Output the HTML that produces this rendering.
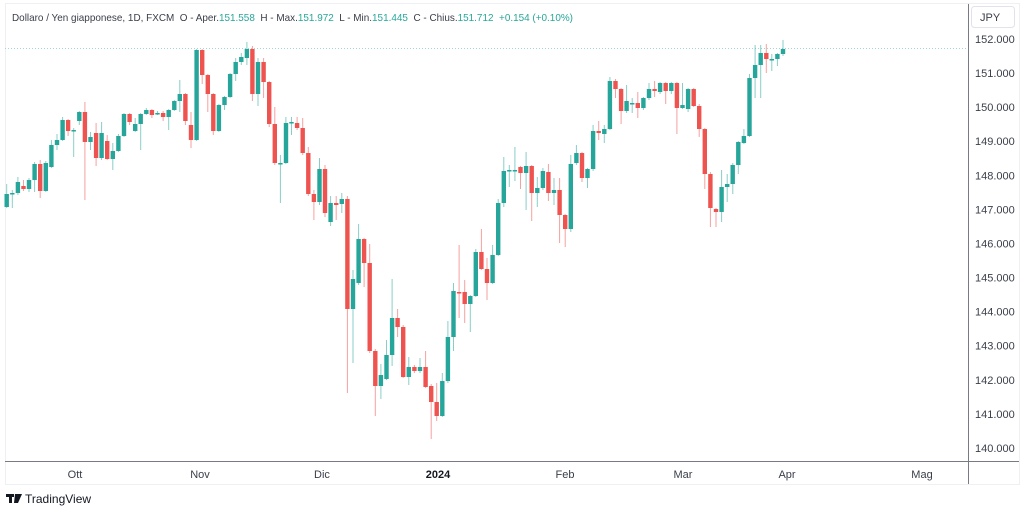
<!DOCTYPE html><html><head><meta charset="utf-8"><style>
body{margin:0;background:#fff;width:1024px;height:511px;overflow:hidden;font-family:"Liberation Sans",sans-serif}
</style></head><body>
<svg id="s" width="1024" height="511" xmlns="http://www.w3.org/2000/svg" font-family="Liberation Sans, sans-serif">
<rect x="5.5" y="3.5" width="1014" height="481" fill="#fff" stroke="#eef0f3"/>
<line x1="5" y1="48.5" x2="968" y2="48.5" stroke="#9fd9d3" stroke-dasharray="1,2"/>
<line x1="968.5" y1="4" x2="968.5" y2="484" stroke="#787b86"/>
<line x1="5" y1="461.5" x2="1019" y2="461.5" stroke="#787b86"/>
<text x="12" y="21" font-size="10.5" fill="#3a3e4a" xml:space="preserve" textLength="561" lengthAdjust="spacingAndGlyphs">Dollaro / Yen giapponese, 1D, FXCM  O - Aper.<tspan fill="#26a69a">151.558</tspan>  H - Max.<tspan fill="#26a69a">151.972</tspan>  L - Min.<tspan fill="#26a69a">151.445</tspan>  C - Chius.<tspan fill="#26a69a">151.712</tspan>  <tspan fill="#26a69a">+0.154 (+0.10%)</tspan></text>
<rect x="971.5" y="6.5" width="43" height="21" rx="3" fill="#fff" stroke="#e0e3eb"/>
<text x="980" y="21" font-size="11" fill="#3a3e4a">JPY</text>
<g id="ax" font-size="11" fill="#3a3e4a"></g>
<g font-size="11" fill="#3a3e4a" text-anchor="middle">
<text x="75" y="478">Ott</text><text x="200" y="478">Nov</text><text x="322" y="478">Dic</text><text x="438" y="478" font-weight="bold" fill="#131722">2024</text><text x="565" y="478">Feb</text><text x="683" y="478">Mar</text><text x="787" y="478">Apr</text><text x="922" y="478">Mag</text>
</g>
<g fill="#131722"><rect x="6" y="494" width="8" height="3"/><rect x="9" y="494" width="3" height="9"/><polygon points="15,494 22,494 18,503 14,503"/></g>
<text x="25" y="503" font-size="12" fill="#131722">TradingView</text>
<g id="c"></g>
</svg>
<script>
var ax=document.getElementById('ax'),h='';
for(var p=152;p>=140;p--){var y=39+(152-p)*34.08;h+='<text x="975" y="'+(y+4)+'">'+p+'.000</text>';}
ax.innerHTML=h;
var d=[["g",194,207,184,208],["g",193,194,190,208],["g",182,193,177,195],["r",186,189,180,191],["g",180,189,178,192],["g",164,180,162,192],["r",164,191,160,198],["g",163,191,161,192],["g",145,167,140,168],["g",140,145,134,150],["g",120,140,117,141],["r",120,131,119,136],["g",130,131,128,157],["g",112,121,111,125],["r",112,142,102,200],["g",137,142,132,150],["r",133,158,123,166],["g",133,158,122,160],["r",141,159,135,160],["g",151,159,143,170],["g",136,151,134,152],["g",114,136,113,137],["r",114,122,113,125],["g",124,131,118,132],["g",114,124,113,150],["g",110,114,108,115],["r",110,115,109,118],["g",113,114,111,115],["r",113,117,111,121],["g",110,117,109,130],["g",101,110,100,111],["g",94,101,80,112],["r",94,121,93,125],["r",125,140,112,148],["g",50,140,49,141],["r",50,75,49,84],["r",75,94,74,112],["r",94,131,93,135],["g",105,131,104,132],["g",97,105,96,110],["g",74,97,73,98],["g",62,74,58,81],["g",57,62,53,65],["g",49,58,42,65],["r",49,94,46,101],["g",62,94,58,106],["r",62,82,58,98],["r",82,124,81,127],["r",124,163,107,165],["g",163,164,155,203],["g",123,163,117,164],["g",122,123,117,135],["r",123,128,117,130],["r",128,153,118,155],["r",153,194,147,196],["r",194,202,190,220],["g",169,202,158,205],["r",169,213,165,217],["g",203,222,196,226],["r",203,205,196,220],["g",199,204,193,213],["r",199,309,196,393],["g",279,309,270,363],["g",239,283,224,285],["r",239,263,238,287],["r",263,351,244,353],["r",351,386,349,416],["g",375,386,364,399],["g",355,379,340,380],["g",318,355,279,366],["r",318,327,309,337],["r",327,377,325,378],["g",367,377,357,385],["r",367,371,365,373],["g",367,371,358,373],["r",367,387,351,388],["r",386,402,384,439],["r",402,416,383,421],["g",381,416,373,417],["g",337,381,321,383],["g",291,337,283,351],["r",292,293,245,318],["r",292,304,280,323],["g",296,304,295,332],["g",252,296,249,297],["r",252,269,229,270],["r",269,283,258,300],["g",255,283,245,284],["g",203,255,199,256],["g",171,203,157,207],["g",170,171,165,187],["g",170,171,147,181],["r",167,173,166,189],["g",166,173,152,210],["r",166,193,165,221],["g",188,193,177,207],["g",171,188,168,190],["r",172,193,164,201],["g",190,193,178,205],["r",190,215,178,243],["r",215,229,214,247],["g",164,229,155,232],["g",153,163,145,165],["r",153,178,152,182],["g",169,178,168,188],["g",131,169,125,171],["r",131,133,121,140],["g",129,134,125,143],["g",81,129,77,130],["r",81,89,79,98],["r",89,111,88,124],["g",101,111,85,113],["g",103,104,98,113],["r",103,108,92,118],["g",98,108,97,110],["g",89,98,83,100],["r",89,91,81,97],["g",83,92,82,94],["r",83,91,82,104],["g",83,91,82,94],["r",83,108,82,134],["g",105,108,83,109],["g",89,109,88,112],["r",89,106,88,107],["r",106,129,104,137],["r",129,174,128,189],["r",174,208,172,227],["r",209,212,208,227],["g",187,212,170,222],["g",184,187,174,202],["g",165,184,163,194],["g",142,165,141,174],["g",136,143,129,144],["g",78,136,74,137],["g",65,78,45,98],["g",53,65,45,98],["r",53,59,44,73],["g",59,60,54,71],["g",54,59,53,66],["g",49,54,40,56]];
var o='';
d.forEach(function(c,i){var x=6.7+i*5.585,col=c[0]=='g'?'#26a69a':'#ef5350';
o+='<line x1="'+x.toFixed(1)+'" x2="'+x.toFixed(1)+'" y1="'+c[3]+'" y2="'+c[4]+'" stroke="'+col+'" stroke-opacity="0.55" stroke-width="1"/>';
o+='<rect x="'+(x-2.2).toFixed(1)+'" y="'+c[1]+'" width="4.4" height="'+Math.max(1.5,c[2]-c[1])+'" fill="'+col+'"/>';});
document.getElementById('c').innerHTML=o;
</script>
</body></html>
